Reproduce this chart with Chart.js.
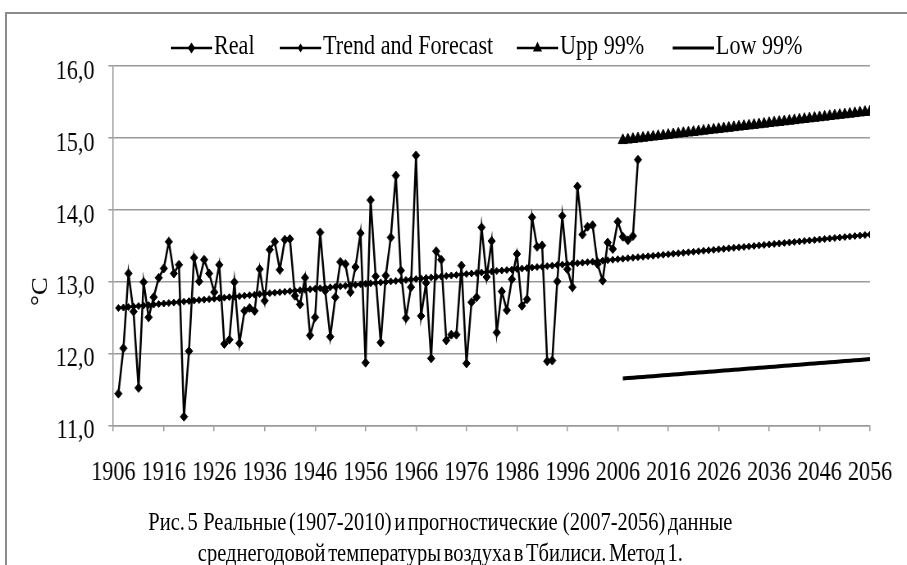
<!DOCTYPE html>
<html>
<head>
<meta charset="utf-8">
<script src="https://cdn.jsdelivr.net/npm/chart.js@4.4.0/dist/chart.umd.min.js"></script>
<style>
  html, body { margin: 0; padding: 0; background: #fff; overflow: hidden; }
  #frame { position: absolute; left: 5px; top: 12px; width: 1000px; height: 700px;
           border: 2px solid #8c8c8c; box-sizing: border-box; }
  #wrap { position: absolute; left: 0; top: 0; width: 1106px; height: 565px;
          transform: scaleX(0.82); transform-origin: 0 0;
          font-family: 'Liberation Serif', 'Times New Roman', serif; color: #000; }
  #wrap canvas { position: absolute; left: 0; top: 0; }
  .leg { position: absolute; top: 31px; font-size: 27px; line-height: 28px; white-space: nowrap; }
  .leg svg { vertical-align: middle; margin-right: 2px; }
  #ytitle { position: absolute; left: 34px; top: 276px; font-size: 27px;
            transform: rotate(-90deg); transform-origin: 50% 50%; }
  .cap { position: absolute; left: 0; width: 1074px; text-align: center;
         font-size: 25px; line-height: 28px; white-space: nowrap; word-spacing: -3px; }
</style>
</head>
<body>
<div id="frame"></div>
<div id="wrap">
  <canvas id="myChart" width="1106" height="565"></canvas>
  <div class="leg" style="left:208px"><svg width="51" height="16"><line x1="0" y1="8" x2="51" y2="8" stroke="#000" stroke-width="2.5"/><polygon points="25.5,2.5 30,8 25.5,13.5 21,8" fill="#000"/></svg>Real</div>
  <div class="leg" style="left:341px"><svg width="51" height="16"><line x1="0" y1="8" x2="51" y2="8" stroke="#000" stroke-width="2.5"/><polygon points="25.5,3.5 29,8 25.5,12.5 22,8" fill="#000"/></svg>Trend and Forecast</div>
  <div class="leg" style="left:630px"><svg width="51" height="16"><line x1="0" y1="8" x2="51" y2="8" stroke="#000" stroke-width="2.5"/><polygon points="25.5,1.5 31,11.5 20,11.5" fill="#000"/></svg>Upp 99%</div>
  <div class="leg" style="left:820px"><svg width="51" height="16"><line x1="0" y1="8" x2="51" y2="8" stroke="#000" stroke-width="3"/></svg>Low 99%</div>
  <div id="ytitle">°C</div>
  <div class="cap" style="top:508px">Рис. 5&nbsp; Реальные (1907-2010) и прогностические&nbsp; (2007-2056) данные</div>
  <div class="cap" style="top:539px">среднегодовой температуры воздуха в Тбилиси. Метод 1.</div>
</div>
<script>
  // Годы: реальные данные 1907-2010, тренд 1907-2056, доверительные границы 2007-2056
  const realStart = 1907;
  const trendStart = 1907;
  const boundStart = 2007;

  // Реальные среднегодовые температуры, °C
  const realValues = [
    11.44, 12.07, 13.11, 12.58, 11.52, 12.99, 12.50, 12.78, 13.05, 13.18,
    13.55, 13.11, 13.23, 11.12, 12.03, 13.33, 13.00, 13.30, 13.11, 12.85,
    13.23, 12.13, 12.19, 12.99, 12.14, 12.59, 12.63, 12.59, 13.17, 12.73,
    13.44, 13.55, 13.16, 13.58, 13.59, 12.80, 12.68, 13.05, 12.25, 12.50,
    13.68, 12.87, 12.23, 12.78, 13.27, 13.24, 12.85, 13.20, 13.67, 11.87,
    14.13, 13.07, 12.15, 13.08, 13.61, 14.47, 13.15, 12.49, 12.92, 14.75,
    12.52, 12.98, 11.93, 13.42, 13.30, 12.18, 12.26, 12.26, 13.22, 11.86,
    12.71, 12.78, 13.75, 13.06, 13.56, 12.29, 12.86, 12.60, 13.03, 13.38,
    12.66, 12.75, 13.89, 13.48, 13.50, 11.89, 11.90, 13.00, 13.91, 13.17,
    12.92, 14.32, 13.65, 13.76, 13.78, 13.24, 13.01, 13.54, 13.45, 13.83,
    13.62, 13.57, 13.63, 14.69
  ];

  // Тренд и прогноз
  const trendValues = [
    12.630, 12.637, 12.644, 12.651, 12.657, 12.664, 12.671, 12.678, 12.685, 12.692,
    12.699, 12.705, 12.712, 12.719, 12.726, 12.733, 12.740, 12.746, 12.753, 12.760,
    12.767, 12.774, 12.781, 12.788, 12.794, 12.801, 12.808, 12.815, 12.822, 12.829,
    12.836, 12.842, 12.849, 12.856, 12.863, 12.870, 12.877, 12.883, 12.890, 12.897,
    12.904, 12.911, 12.918, 12.925, 12.931, 12.938, 12.945, 12.952, 12.959, 12.966,
    12.973, 12.979, 12.986, 12.993, 13.000, 13.007, 13.014, 13.020, 13.027, 13.034,
    13.041, 13.048, 13.055, 13.062, 13.068, 13.075, 13.082, 13.089, 13.096, 13.103,
    13.110, 13.116, 13.123, 13.130, 13.137, 13.144, 13.151, 13.157, 13.164, 13.171,
    13.178, 13.185, 13.192, 13.199, 13.205, 13.212, 13.219, 13.226, 13.233, 13.240,
    13.247, 13.253, 13.260, 13.267, 13.274, 13.281, 13.288, 13.294, 13.301, 13.308,
    13.315, 13.322, 13.329, 13.336, 13.342, 13.349, 13.356, 13.363, 13.370, 13.377,
    13.384, 13.390, 13.397, 13.404, 13.411, 13.418, 13.425, 13.431, 13.438, 13.445,
    13.452, 13.459, 13.466, 13.473, 13.479, 13.486, 13.493, 13.500, 13.507, 13.514,
    13.521, 13.527, 13.534, 13.541, 13.548, 13.555, 13.562, 13.568, 13.575, 13.582,
    13.589, 13.596, 13.603, 13.610, 13.616, 13.623, 13.630, 13.637, 13.644, 13.651
  ];

  // Верхняя граница 99%
  const uppValues = [
    14.960, 14.968, 14.976, 14.984, 14.993, 15.001, 15.009, 15.017, 15.025, 15.033,
    15.042, 15.050, 15.058, 15.066, 15.074, 15.082, 15.091, 15.099, 15.107, 15.115,
    15.123, 15.131, 15.140, 15.148, 15.156, 15.164, 15.172, 15.180, 15.188, 15.197,
    15.205, 15.213, 15.221, 15.229, 15.237, 15.246, 15.254, 15.262, 15.270, 15.278,
    15.286, 15.295, 15.303, 15.311, 15.319, 15.327, 15.335, 15.344, 15.352, 15.360
  ];

  // Нижняя граница 99%
  const lowValues = [
    11.650, 11.656, 11.661, 11.667, 11.672, 11.678, 11.683, 11.689, 11.694, 11.700,
    11.705, 11.711, 11.716, 11.722, 11.727, 11.733, 11.738, 11.744, 11.749, 11.755,
    11.760, 11.766, 11.771, 11.777, 11.782, 11.788, 11.793, 11.799, 11.804, 11.810,
    11.815, 11.821, 11.826, 11.832, 11.837, 11.843, 11.848, 11.854, 11.859, 11.865,
    11.870, 11.876, 11.881, 11.887, 11.892, 11.898, 11.903, 11.909, 11.914, 11.920
  ];

  // Подписи осей
  const xMin = 1906, xMax = 2056, xStep = 10;
  const yMin = 11, yMax = 16, yStep = 1;

  function toPoints(start, values) {
    return values.map((v, i) => ({ x: start + i, y: v }));
  }

  const font = { family: "'Liberation Serif', 'Times New Roman', serif", size: 27 };
  const gridColor = '#9a9a9a';

  function createChart(ctx) {
    return new Chart(ctx, {
      type: 'line',
      data: {
        datasets: [
          {
            label: 'Low 99%',
            data: toPoints(boundStart, lowValues),
            borderColor: '#000',
            borderWidth: 4,
            pointRadius: 0
          },
          {
            label: 'Upp 99%',
            data: toPoints(boundStart, uppValues),
            borderColor: '#000',
            backgroundColor: '#000',
            borderWidth: 2.5,
            pointStyle: 'triangle',
            pointRadius: 6.5,
            pointBorderWidth: 1
          },
          {
            label: 'Trend and Forecast',
            data: toPoints(trendStart, trendValues),
            borderColor: '#000',
            backgroundColor: '#000',
            borderWidth: 2.5,
            pointStyle: 'rectRot',
            pointRadius: 3.5,
            pointBorderWidth: 1
          },
          {
            label: 'Real',
            data: toPoints(realStart, realValues),
            borderColor: '#000',
            backgroundColor: '#000',
            borderWidth: 2.5,
            pointStyle: 'rectRot',
            pointRadius: 4.5,
            pointBorderWidth: 1
          }
        ]
      },
      options: {
        responsive: false,
        animation: false,
        devicePixelRatio: 1,
        layout: { padding: { left: 0, right: 45, top: 65.5, bottom: 0 } },
        plugins: { legend: { display: false }, tooltip: { enabled: false } },
        elements: { line: { tension: 0 } },
        scales: {
          x: {
            type: 'linear',
            min: xMin,
            max: xMax,
            afterFit: s => { s.height = 139.7; s.paddingLeft = 0; s.paddingRight = 0; },
            ticks: {
              stepSize: xStep,
              autoSkip: false,
              maxRotation: 0,
              color: '#000',
              font: font,
              padding: 25,
              callback: v => String(v)
            },
            grid: { drawOnChartArea: false, drawTicks: true, tickLength: 6, color: gridColor, lineWidth: 1.5 },
            border: { display: true, color: gridColor, width: 1.5 }
          },
          y: {
            min: yMin,
            max: yMax,
            afterFit: s => { s.width = 138.2; },
            ticks: {
              stepSize: yStep,
              color: '#000',
              font: font,
              padding: 17,
              labelOffset: 6,
              callback: v => v.toFixed(1).replace('.', ',')
            },
            grid: { color: gridColor, lineWidth: 1.5, tickLength: 6 },
            border: { display: true, color: gridColor, width: 1.5 }
          }
        }
      }
    });
  }

  window.addEventListener('DOMContentLoaded', () => {
    const ctx = document.getElementById('myChart').getContext('2d');
    createChart(ctx);
  });
</script>
</body>
</html>
